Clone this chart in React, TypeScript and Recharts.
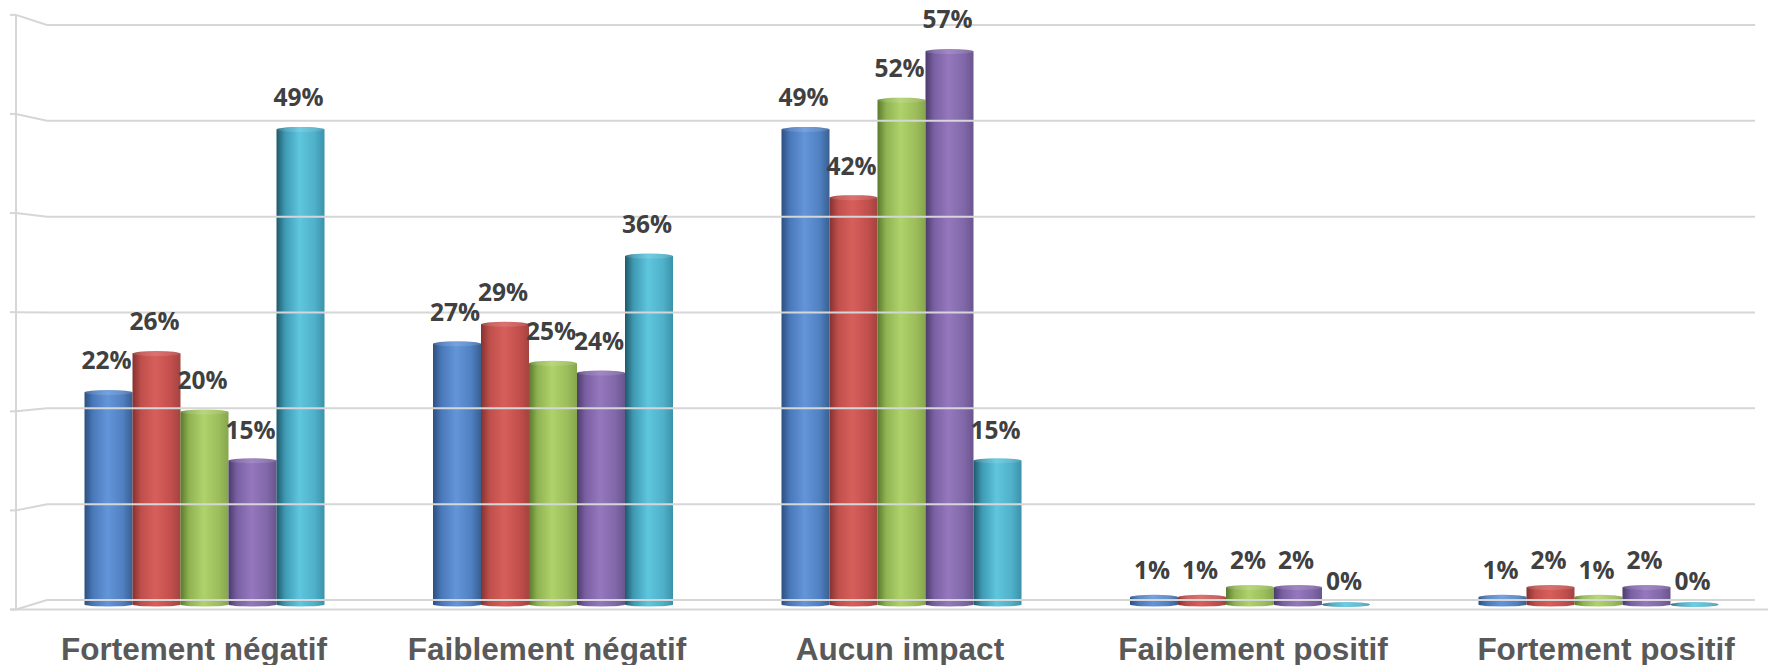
import React from "react";
import { BarChart, Bar, XAxis, YAxis, LabelList } from "recharts";

const categories = ["Fortement négatif", "Faiblement négatif", "Aucun impact", "Faiblement positif", "Fortement positif"];
const serie1 = [22, 27, 49, 1, 1];
const serie2 = [26, 29, 42, 1, 2];
const serie3 = [20, 25, 52, 2, 1];
const serie4 = [15, 24, 57, 2, 2];
const serie5 = [49, 36, 15, 0, 0];
const yTicks = [0, 10, 20, 30, 40, 50, 60];

const seriesKeys = ["s1", "s2", "s3", "s4", "s5"];
const seriesValues = [serie1, serie2, serie3, serie4, serie5];

const data = categories.map((name, i) => {
  const row: Record<string, string | number> = { name };
  seriesKeys.forEach((k, j) => (row[k] = seriesValues[j][i]));
  return row;
});

// horizontal gradient stops per series: dark edge -> highlight -> dark edge
const gradients = [
  ["#2c4f80", "#4a79ba", "#6395d9", "#5080c1", "#385f92"],
  ["#843230", "#bf4f4b", "#d75f5b", "#c24f4c", "#a34340"],
  ["#5a7a2c", "#8fb352", "#afd26b", "#9cbd5b", "#86a64c"],
  ["#4b3b6b", "#7a60a3", "#9577bd", "#8168a9", "#6a558e"],
  ["#1f596b", "#3f9ab3", "#5ec6de", "#4fb0c9", "#3a92aa"],
];

// layout
const CHART_W = 1774;
const CHART_H = 665;
const PLOT_TOP = 19.7;
const PLOT_BOTTOM = 604.5;
const Y_LEFT = 31.25;
const PX_PER_UNIT = (PLOT_BOTTOM - PLOT_TOP) / 60;
const GRID = "#d6d6d6";

const WallTick = (props: any) => {
  const { y, payload } = props;
  const v = Number(payload.value);
  const yBack = y - 4.5 + 0.163 * v;
  const yFront = y + 5 - 0.164 * v;
  const frontStep = 10 * PX_PER_UNIT + 1.64;
  return (
    <g stroke={GRID} strokeWidth={2} fill="none">
      <line x1={10} y1={yFront} x2={16} y2={yFront} />
      <line x1={16} y1={yFront} x2={47} y2={yBack} />
      <line x1={47} y1={yBack} x2={1755} y2={yBack} />
      {v === 0 && <line x1={10} y1={yFront} x2={CHART_W} y2={yFront} />}
      {v > 0 && <line x1={16} y1={yFront} x2={16} y2={yFront + frontStep} />}
    </g>
  );
};

const CategoryTick = (props: any) => {
  const { x, y, payload } = props;
  const tx = 900 + (x - 902.5) * (353 / 348.5);
  return (
    <text
      x={tx}
      y={y + 55}
      textAnchor="middle"
      style={{ fontFamily: "Arial, 'Liberation Sans', sans-serif", fontWeight: 700, fontStretch: "normal", fontSize: 31.5 }}
      fill="#595959"
    >
      {payload.value}
    </text>
  );
};

const CylinderBar = (props: any) => {
  const { x, y, width, height, idx } = props;
  if (x == null || width == null) return null;
  const ry = 2.5;
  const base = y + (height || 0);
  const top = Math.min(y + ry, base);
  const rx = width / 2;
  const d = `M${x},${top} L${x},${base} A${rx},2 0 0 0 ${x + width},${base} L${x + width},${top} Z`;
  return (
    <g>
      <path d={d} fill={`url(#cyl${idx})`} />
      <ellipse cx={x + rx} cy={top} rx={rx} ry={ry} fill={`url(#cyl${idx})`} />
      <ellipse cx={x + rx} cy={top} rx={rx} ry={ry} fill="#ffffff" fillOpacity={0.12} />
    </g>
  );
};

const renderValue = (props: any) => {
  const { x, y, width, value } = props;
  const v = Number(value);
  const gap = 15 + Math.min(v, 20) * 0.28;
  return (
    <text
      x={Number(x) + Number(width) / 2 - 2}
      y={Number(y) - gap}
      textAnchor="middle"
      style={{ fontFamily: "'Open Sans', sans-serif", fontWeight: 700, fontSize: 24.5 }}
      fill="#404040"
    >
      {`${v}%`}
    </text>
  );
};

export default function App() {
  return (
    <div style={{ width: 1768, height: CHART_H, overflow: "hidden", background: "#ffffff" }}>
      <style>{"body{margin:0}"}</style>
      <BarChart
        width={CHART_W}
        height={CHART_H}
        data={data}
        margin={{ top: PLOT_TOP, right: CHART_W - Y_LEFT - 1742.5, left: 0, bottom: 0 }}
        barCategoryGap={53.25}
        barGap={0}
      >
        <defs>
          {gradients.map((stops, i) => (
            <linearGradient key={i} id={`cyl${i}`} x1="0" y1="0" x2="1" y2="0">
              <stop offset="0%" stopColor={stops[0]} />
              <stop offset="18%" stopColor={stops[1]} />
              <stop offset="48%" stopColor={stops[2]} />
              <stop offset="80%" stopColor={stops[3]} />
              <stop offset="100%" stopColor={stops[4]} />
            </linearGradient>
          ))}
        </defs>
        <YAxis
          width={Y_LEFT}
          domain={[0, 60]}
          ticks={yTicks}
          interval={0}
          axisLine={false}
          tickLine={false}
          tickSize={0}
          tickMargin={0}
          tick={<WallTick />}
        />
        <XAxis
          dataKey="name"
          height={CHART_H - PLOT_BOTTOM}
          axisLine={false}
          tickLine={false}
          tickSize={0}
          tickMargin={0}
          interval={0}
          tick={<CategoryTick />}
        />
        {seriesKeys.map((k, i) => (
          <Bar
            key={k}
            dataKey={k}
            isAnimationActive={false}
            shape={(p: any) => <CylinderBar {...p} idx={i} />}
          >
            <LabelList dataKey={k} content={renderValue} />
          </Bar>
        ))}
      </BarChart>
    </div>
  );
}
